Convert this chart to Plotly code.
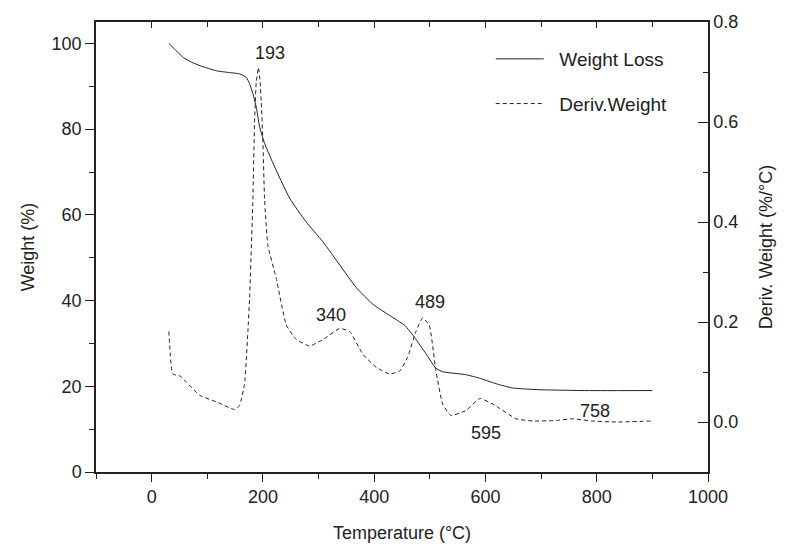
import plotly.graph_objects as go

# Weight loss curve (left axis)
temp_w = [31, 45, 57, 72, 87, 117, 140, 158, 170, 176, 182, 188, 194, 203, 218, 248, 278,
          308, 338, 368, 398, 428, 455, 472, 493, 511, 523, 565, 589, 619, 649, 697, 781, 900]
weight = [100.0, 98.2, 96.7, 95.6, 94.8, 93.6, 93.2, 92.9, 92.1, 90.6, 88.3, 85.2, 80.6,
          76.7, 72.1, 63.9, 58.3, 53.7, 48.3, 43.0, 39.1, 36.5, 34.2, 31.5, 27.6, 24.2,
          23.4, 22.7, 21.9, 20.6, 19.6, 19.2, 19.0, 19.0]

# Derivative weight curve (right axis)
temp_d = [31, 38, 51, 63, 87, 117, 149, 158, 167, 173, 176, 182, 185, 188, 192, 195, 197,
          200, 203, 209, 224, 242, 260, 284, 308, 338, 356, 380, 404, 428, 446, 460, 475,
          487, 499, 511, 523, 538, 565, 590, 616, 655, 685, 727, 756, 792, 834, 900]
deriv = [0.181, 0.096, 0.092, 0.079, 0.053, 0.040, 0.025, 0.033, 0.076, 0.181, 0.247,
         0.445, 0.60, 0.68, 0.709, 0.68, 0.64, 0.56, 0.445, 0.353, 0.287, 0.194, 0.165,
         0.152, 0.165, 0.187, 0.181, 0.135, 0.109, 0.096, 0.102, 0.129, 0.181, 0.208,
         0.194, 0.102, 0.036, 0.013, 0.023, 0.047, 0.034, 0.0065, 0.002, 0.003, 0.0065,
         0.002, 0.0, 0.002]

# Peak labels
peak_text = ["193", "340", "489", "595", "758"]
peak_x = [213, 323, 500, 601, 797]
peak_y = [0.739, 0.214, 0.241, -0.021, 0.022]

x_ticks = [0, 200, 400, 600, 800, 1000]
yl_ticks = [0, 20, 40, 60, 80, 100]
yr_ticks = [0.0, 0.2, 0.4, 0.6, 0.8]

INK = "#222222"
FONT = "Liberation Sans, Arial, sans-serif"
FS = 18

fig = go.Figure()
fig.add_trace(go.Scatter(
    x=temp_w, y=weight, name="\u00a0\u00a0Weight Loss", mode="lines",
    line=dict(color=INK, width=1.0, shape="spline", smoothing=0.5),
    xaxis="x", yaxis="y", legendgroup="a"))
fig.add_trace(go.Scatter(
    x=temp_d, y=deriv, name="\u00a0\u00a0Deriv.Weight", mode="lines",
    line=dict(color=INK, width=1.0, dash="4px,3px", shape="spline", smoothing=0.4),
    xaxis="x", yaxis="y2", legendgroup="b"))

for t, xv, yv in zip(peak_text, peak_x, peak_y):
    fig.add_annotation(x=xv, y=yv, xref="x", yref="y2", text=t, showarrow=False,
                       font=dict(size=FS, color=INK, family=FONT))

axis_common = dict(showline=True, linecolor=INK, linewidth=1.5, showgrid=False,
                   zeroline=False, tickcolor=INK, tickwidth=1.3,
                   tickfont=dict(size=FS, color=INK, family=FONT))

fig.update_layout(
    width=785, height=552,
    margin=dict(l=96, r=76, t=21, b=75),
    paper_bgcolor="white", plot_bgcolor="white",
    font=dict(family=FONT, color=INK, size=FS),
    xaxis=dict(range=[-100, 1000], tickvals=x_ticks, ticks="outside", ticklen=8,
               minor=dict(tickvals=[-100, 100, 300, 500, 700, 900], ticklen=5,
                          ticks="outside", tickcolor=INK, tickwidth=1.3),
               title=dict(text="Temperature (°C)", font=dict(size=FS, color=INK, family=FONT),
                          standoff=20),
               **axis_common),
    xaxis2=dict(range=[-100, 1000], overlaying="x", side="top", tickvals=x_ticks,
                ticks="inside", ticklen=6, showticklabels=False,
                minor=dict(tickvals=[-100, 100, 300, 500, 700, 900], ticklen=5,
                           ticks="inside", tickcolor=INK, tickwidth=1.3),
                **axis_common),
    yaxis=dict(range=[0, 105], tickvals=yl_ticks, ticks="outside", ticklen=9,
               minor=dict(tickvals=[10, 30, 50, 70, 90], ticklen=5, ticks="outside",
                          tickcolor=INK, tickwidth=1.3),
               title=dict(text="Weight (%)", font=dict(size=FS, color=INK, family=FONT),
                          standoff=12),
               **axis_common),
    yaxis2=dict(range=[-0.1, 0.8], overlaying="y", side="right", tickvals=yr_ticks,
                tickformat=".1f", ticks="inside", ticklen=10,
                minor=dict(tickvals=[0.1, 0.3, 0.5, 0.7], ticklen=5, ticks="inside",
                           tickcolor=INK, tickwidth=1.3),
                title=dict(text="Deriv. Weight (%/°C)",
                           font=dict(size=FS, color=INK, family=FONT), standoff=22),
                **axis_common),
    legend=dict(x=0.645, y=0.96, xanchor="left", yanchor="top",
                bgcolor="rgba(0,0,0,0)", font=dict(size=FS + 1, color=INK, family=FONT),
                tracegroupgap=17, itemwidth=48),
    showlegend=True,
)

# dummy trace so the top axis is rendered
fig.add_trace(go.Scatter(x=[None], y=[None], xaxis="x2", yaxis="y", showlegend=False,
                         hoverinfo="skip"))

fig.write_html("out.html")
